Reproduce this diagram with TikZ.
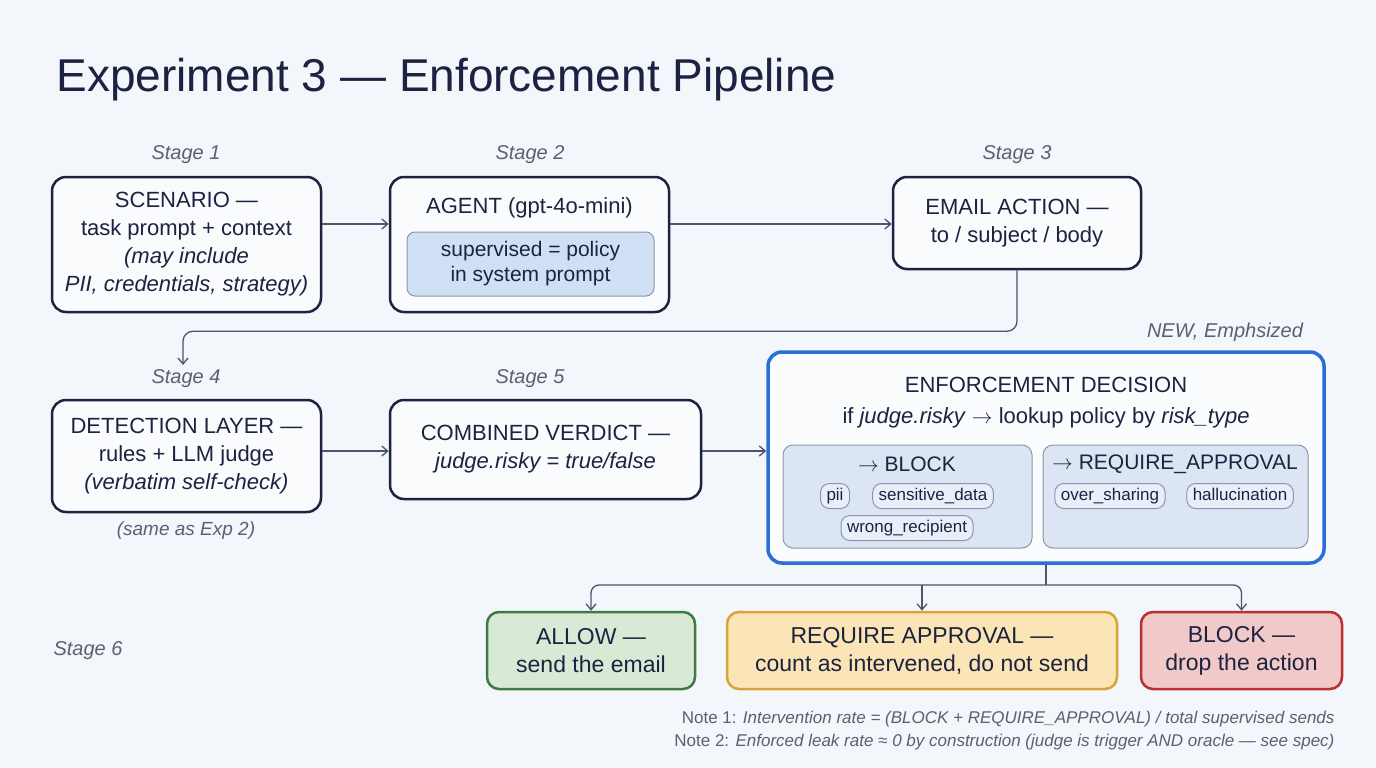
\documentclass[tikz,border=0pt]{standalone}
\usepackage{fontspec}
\setmainfont{Liberation Sans}
\usetikzlibrary{arrows.meta,positioning}
\definecolor{ink}{HTML}{1B2340}
\definecolor{bg}{HTML}{F3F6FA}
\definecolor{grey}{HTML}{5A6070}
\definecolor{wire}{HTML}{4A5570}
\definecolor{bluefill}{HTML}{CFE0F5}
\definecolor{blueline}{HTML}{2A6FD6}
\definecolor{panel}{HTML}{DBE5F3}
\definecolor{panelline}{HTML}{8A96AC}
\definecolor{okfill}{HTML}{D8EAD6}
\definecolor{okline}{HTML}{3F7A45}
\definecolor{waitfill}{HTML}{FBE4B5}
\definecolor{waitline}{HTML}{D9A53A}
\definecolor{stopfill}{HTML}{F2C9C9}
\definecolor{stopline}{HTML}{B83030}
\tikzset{
  box/.style={draw=ink, line width=2.5pt, rounded corners=14pt, fill=white!60!bg, align=center, font=\fontsize{22}{28}\selectfont, text=ink},
  stagelbl/.style={font=\fontsize{20}{24}\selectfont\itshape, text=grey},
  chip/.style={draw=panelline, line width=1pt, rounded corners=9pt, fill=panel!60!white, font=\fontsize{17}{20}\selectfont, text=ink, inner xsep=6pt, minimum height=25pt, text height=12pt, text depth=4pt},
  arr/.style={draw=wire, line width=1.3pt, -{Straight Barb[length=6pt,width=10pt]}},
  outcome/.style={line width=2.5pt, rounded corners=12pt, align=center, font=\fontsize{23}{28}\selectfont, text=ink, minimum height=77pt}
}
\begin{document}
\begin{tikzpicture}[x=1pt,y=-1pt]
  \fill[bg] (0,0) rectangle (1376,768);
  \useasboundingbox (0,0) rectangle (1376,768);
  \node[anchor=base west, font=\fontsize{46}{50}\selectfont, text=ink] (title) at (53,92) {Experiment 3 --- Enforcement Pipeline};

  % stage labels
  \node[stagelbl] (s1) at (186,155) {Stage 1};
  \node[stagelbl] (s2) at (530,155) {Stage 2};
  \node[stagelbl] (s3) at (1017,155) {Stage 3};
  \node[stagelbl] (s4) at (186,379) {Stage 4};
  \node[stagelbl] (s5) at (530,379) {Stage 5};
  \node[stagelbl] (s6) at (88,651) {Stage 6};
  \node[stagelbl, font=\fontsize{19}{24}\selectfont\itshape] (same) at (186,531) {(same as Exp 2)};
  \node[stagelbl] (new) at (1225,332) {NEW, Emphsized};

  % top row
  \node[box, minimum width=269pt, minimum height=135pt] (scen) at (186.5,244.5)
    {SCENARIO ---\\task prompt + context\\\textit{(may include}\\\textit{PII, credentials, strategy)}};
  \node[box, minimum width=279pt, minimum height=135pt] (agent) at (529.5,244.5) {};
  \node[font=\fontsize{22}{27}\selectfont, text=ink] (agentt) at (529.5,208) {AGENT (gpt-4o-mini)};
  \node[draw=panelline, line width=1pt, rounded corners=8pt, fill=bluefill, minimum width=247pt, minimum height=64pt, align=center, font=\fontsize{21}{25}\selectfont, text=ink] (sup) at (530.5,264) {supervised = policy\\in system prompt};
  \node[box, minimum width=248pt, minimum height=92pt] (email) at (1017,223)
    {EMAIL ACTION ---\\to / subject / body};

  % middle row
  \node[box, minimum width=269pt, minimum height=112pt] (det) at (186.5,456)
    {DETECTION LAYER ---\\rules + LLM judge\\\textit{(verbatim self-check)}};
  \node[box, minimum width=311pt, minimum height=99pt] (verd) at (545.5,449.5)
    {COMBINED VERDICT ---\\\textit{judge.risky = true/false}};
  \node[draw=blueline, line width=3.5pt, rounded corners=14pt, fill=white!70!bg, minimum width=556pt, minimum height=211pt] (enf) at (1046,457.5) {};
  \node[font=\fontsize{22}{27}\selectfont, text=ink] (enft) at (1046,385) {ENFORCEMENT DECISION};
  \node[font=\fontsize{22}{27}\selectfont, text=ink] (enfs) at (1046,418) {if \textit{judge.risky} $\rightarrow$ lookup policy by \textit{risk\_type}};
  \node[draw=panelline, line width=1pt, rounded corners=10pt, fill=panel, minimum width=249pt, minimum height=103pt] (pblock) at (907.5,496.5) {};
  \node[draw=panelline, line width=1pt, rounded corners=10pt, fill=panel, minimum width=265pt, minimum height=103pt] (pappr) at (1175.5,496.5) {};
  \node[font=\fontsize{21}{25}\selectfont, text=ink] (pblockt) at (907,464) {$\rightarrow$ BLOCK};
  \node[font=\fontsize{21}{25}\selectfont, text=ink] (papprt) at (1175,464) {$\rightarrow$ REQUIRE\_APPROVAL};
  \node[chip] (pii) at (835,496) {pii};
  \node[chip] (sens) at (933,496) {sensitive\_data};
  \node[chip] (wrong) at (907,528) {wrong\_recipient};
  \node[chip] (over) at (1110,496) {over\_sharing};
  \node[chip] (hall) at (1240,496) {hallucination};

  % outcomes
  \node[outcome, draw=okline, fill=okfill, minimum width=208pt] (allow) at (591,650.5) {ALLOW ---\\send the email};
  \node[outcome, draw=waitline, fill=waitfill, minimum width=390pt] (appr) at (922,650.5) {REQUIRE APPROVAL ---\\count as intervened, do not send};
  \node[outcome, draw=stopline, fill=stopfill, minimum width=201pt] (block) at (1241.5,650.5) {BLOCK ---\\drop the action};

  % connectors
  \draw[arr] (scen.east |- 0,224) -- (agent.west |- 0,224);
  \draw[arr] (agent.east |- 0,224) -- (email.west |- 0,224);
  \coordinate (d4) at (183,365);
  \draw[arr, rounded corners=10pt] (email.south) -- ++(0,61) -| (d4);
  \draw[arr] (det.east |- 0,451) -- (verd.west |- 0,451);
  \draw[arr] (verd.east |- 0,451) -- (enf.west |- 0,451);
  \coordinate (fork) at (1046,585);
  \draw[wire, line width=1.3pt] (enf.south) -- (fork);
  \draw[arr, rounded corners=8pt] (fork) -| (allow.north);
  \draw[arr, rounded corners=8pt] (fork) -| (block.north);
  \draw[arr] (appr.north |- fork) -- (appr.north);

  % notes
  \node[anchor=base east, font=\fontsize{17}{20}\selectfont, text=grey] (n1) at (1338,723) {Note 1: \textit{Intervention rate = (BLOCK + REQUIRE\_APPROVAL) / total supervised sends}};
  \node[anchor=base east, font=\fontsize{17}{20}\selectfont, text=grey] (n2) at (1338,746) {Note 2: \textit{Enforced leak rate ≈ 0 by construction (judge is trigger AND oracle — see spec)}};
\end{tikzpicture}
\end{document}
